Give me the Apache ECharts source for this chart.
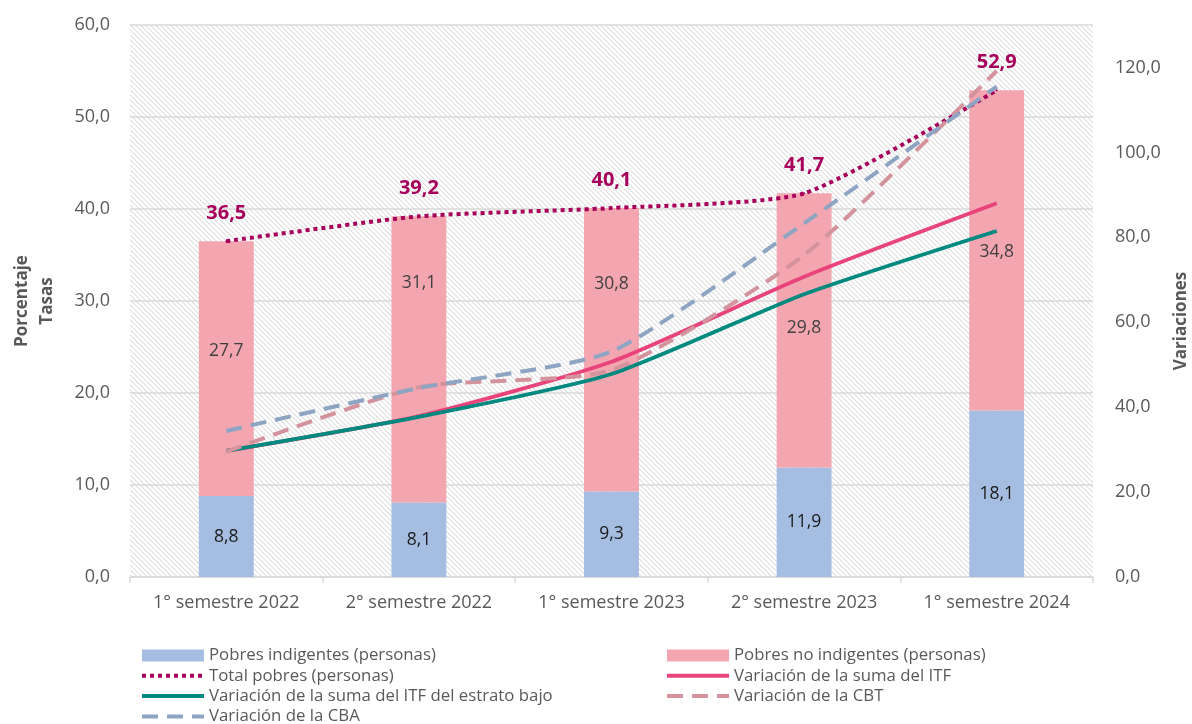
<!DOCTYPE html>
<html>
<head>
<meta charset="utf-8">
<script src="https://cdn.jsdelivr.net/npm/echarts@6/dist/echarts.min.js"></script>
<style>
html, body { margin: 0; padding: 0; background: #fff; }
#chart { width: 1192px; height: 724px; }
</style>
</head>
<body>
<div id="chart"></div>
<script>
// datos
const categories = ['1° semestre 2022', '2° semestre 2022', '1° semestre 2023', '2° semestre 2023', '1° semestre 2024'];
const pobresIndigentes = [8.8, 8.1, 9.3, 11.9, 18.1];
const pobresNoIndigentes = [27.7, 31.1, 30.8, 29.8, 34.8];
const totalPobres = [36.5, 39.2, 40.1, 41.7, 52.9];
const varSumaITF = [29.7, 37.9, 50.7, 70.7, 88.0];
const varITFEstratoBajo = [29.7, 37.7, 47.8, 66.6, 81.5];
const varCBT = [29.5, 44.7, 48.7, 75.8, 119.2];
const varCBA = [34.4, 44.5, 53.1, 83.3, 115.5];

// ejes
const leftMin = 0, leftMax = 60, leftStep = 10;
const rightMin = 0, rightMax = 130, rightStep = 20;

// desplazamiento vertical de las etiquetas dentro de las barras rosas (px)
const noIndLabelShift = [-18, -76, -66, -2, 2];

const fmt = v => Number(v).toFixed(1).replace('.', ',');

function hatch() {
    const n = 5;
    const c = document.createElement('canvas');
    c.width = n; c.height = n;
    const ctx = c.getContext('2d');
    ctx.fillStyle = '#ffffff';
    ctx.fillRect(0, 0, n, n);
    for (let i = 0; i < n; i++) {
        ctx.fillStyle = '#dedede';
        ctx.fillRect(i, i, 1, 1);
        ctx.fillStyle = '#f1f1f1';
        ctx.fillRect((i + 1) % n, i, 1, 1);
    }
    return c;
}

let myChart = echarts.init(document.getElementById('chart'));

const font = '"Open Sans", sans-serif';
const grey = '#595959';
const gridLine = '#d9d9d9';

const legendText = {color: grey, fontSize: 16.8, fontFamily: font, lineHeight: 16};

const lineBase = {
    type: 'line',
    yAxisIndex: 1,
    symbol: 'none',
    smooth: 0.2,
    z: 3
};

// la leyenda de las líneas: solo el trazo, sin símbolo
const lineLegend = name => ({name: name, itemStyle: {opacity: 0}});

const legendBase = {
    top: 647,
    height: 90,
    padding: 0,
    orient: 'vertical',
    itemWidth: 62,
    itemHeight: 12,
    itemGap: 3.3,
    lineStyle: {width: 4},
    textStyle: legendText
};

option = {
    animation: false,
    textStyle: {fontFamily: font},
    grid: {
        left: 130,
        right: 99,
        top: 25,
        bottom: 147,
        outerBoundsMode: 'none',
        containLabel: false,
        show: true,
        borderWidth: 0,
        backgroundColor: {image: hatch(), repeat: 'repeat'}
    },
    legend: [
        Object.assign({}, legendBase, {
            left: 140,
            data: [
                {name: 'Pobres indigentes (personas)', icon: 'rect'},
                lineLegend('Total pobres (personas)'),
                lineLegend('Variación de la suma del ITF del estrato bajo'),
                lineLegend('Variación de la CBA')
            ]
        }),
        Object.assign({}, legendBase, {
            left: 665,
            data: [
                {name: 'Pobres no indigentes (personas)', icon: 'rect'},
                lineLegend('Variación de la suma del ITF'),
                lineLegend('Variación de la CBT')
            ]
        })
    ],
    xAxis: {
        type: 'category',
        data: categories,
        boundaryGap: true,
        axisLine: {lineStyle: {color: gridLine, width: 1.5}},
        axisTick: {show: true, length: 6, lineStyle: {color: gridLine, width: 1.5}},
        axisLabel: {color: grey, fontSize: 18, margin: 17}
    },
    yAxis: [
        {
            type: 'value',
            min: leftMin,
            max: leftMax,
            interval: leftStep,
            name: 'Porcentaje\nTasas',
            nameLocation: 'middle',
            nameRotate: 90,
            nameGap: 70,
            nameTextStyle: {color: grey, fontSize: 17, fontWeight: 'bold', lineHeight: 25},
            axisLine: {show: false},
            axisTick: {show: false},
            axisLabel: {color: grey, fontSize: 18, margin: 20, formatter: v => fmt(v)},
            splitLine: {lineStyle: {color: gridLine, width: 1.5}}
        },
        {
            type: 'value',
            min: rightMin,
            max: rightMax,
            interval: rightStep,
            name: 'Variaciones',
            nameLocation: 'middle',
            nameRotate: 90,
            nameGap: 80,
            nameTextStyle: {color: grey, fontSize: 17, fontWeight: 'bold', padding: [0, 40, 0, 0]},
            axisLine: {show: false},
            axisTick: {show: false},
            splitLine: {show: false},
            axisLabel: {
                color: grey, fontSize: 18, margin: 22,
                showMaxLabel: false,
                formatter: v => (v > 120 ? '' : fmt(v))
            }
        }
    ],
    series: [
        {
            name: 'Pobres indigentes (personas)',
            type: 'bar',
            stack: 'pobres',
            barWidth: '28.5%',
            data: pobresIndigentes,
            itemStyle: {color: '#a4bde0'},
            label: {show: true, position: 'inside', color: '#1a1a1a', fontSize: 17.5, formatter: p => fmt(p.value)}
        },
        {
            name: 'Pobres no indigentes (personas)',
            type: 'bar',
            stack: 'pobres',
            data: pobresNoIndigentes.map((v, i) => ({
                value: v,
                label: {offset: [0, noIndLabelShift[i]]}
            })),
            itemStyle: {color: '#f3a6b0'},
            label: {show: true, position: 'inside', color: '#404040', fontSize: 17.5, formatter: p => fmt(p.value)}
        },
        {
            name: 'Total pobres (personas)',
            type: 'line',
            yAxisIndex: 0,
            symbol: 'none',
            smooth: 0.2,
            z: 3,
            data: totalPobres,
            itemStyle: {color: '#a6005b'},
            lineStyle: {color: '#a6005b', width: 4, type: [4, 4], cap: 'butt'}
        },
        {
            // solo etiquetas del total
            name: 'totalEtiquetas',
            type: 'line',
            yAxisIndex: 0,
            data: totalPobres,
            symbol: 'circle',
            symbolSize: 2,
            lineStyle: {width: 0},
            itemStyle: {color: '#a6005b'},
            label: {
                show: true,
                position: 'top',
                distance: 17,
                color: '#a6005b',
                fontSize: 20,
                fontWeight: 'bold',
                formatter: p => fmt(p.value)
            },
            z: 4
        },
        Object.assign({}, lineBase, {
            name: 'Variación de la suma del ITF',
            data: varSumaITF,
            itemStyle: {color: '#e8437a'},
            lineStyle: {color: '#e8437a', width: 3.8}
        }),
        Object.assign({}, lineBase, {
            name: 'Variación de la suma del ITF del estrato bajo',
            data: varITFEstratoBajo,
            itemStyle: {color: '#00897e'},
            lineStyle: {color: '#00897e', width: 3.8}
        }),
        Object.assign({}, lineBase, {
            name: 'Variación de la CBT',
            data: varCBT,
            itemStyle: {color: '#d4939c'},
            lineStyle: {color: '#d4939c', width: 4, type: [16, 9], cap: 'butt'}
        }),
        Object.assign({}, lineBase, {
            name: 'Variación de la CBA',
            data: varCBA,
            itemStyle: {color: '#8da4c3'},
            lineStyle: {color: '#8da4c3', width: 4, type: [16, 9], cap: 'butt'}
        })
    ]
};

myChart.setOption(option);
</script>
</body>
</html>
